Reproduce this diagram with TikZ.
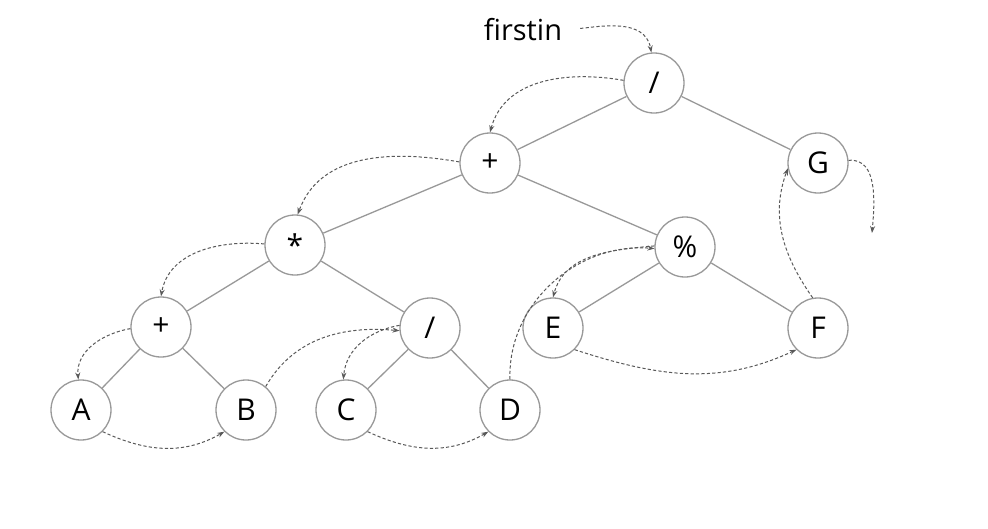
\documentclass[tikz,border=0pt]{standalone}
\usepackage{fontspec}
\setmainfont{Open Sans}
\usetikzlibrary{arrows.meta}
\begin{document}
\begin{tikzpicture}[x=1pt,y=-1pt,
  treenode/.style={circle,draw=black!40,line width=1.3pt,minimum size=60pt,inner sep=0pt,fill=white,font=\fontsize{30}{32}\selectfont},
  treeedge/.style={draw=black!40,line width=1.3pt},
  thread/.style={draw=black!65,line width=1pt,dash pattern=on 3.2pt off 2.2pt,
    -{Stealth[length=7pt,width=5pt]}}]
\useasboundingbox (0,0) rectangle (988,528);
\fill[white] (0,0) rectangle (988,528);

% tree nodes
\node[treenode] (root) at (654,83) {/};
\node[treenode] (p1)   at (490,163) {+};
\node[treenode] (G)    at (818,163) {G};
\node[treenode] (mul)  at (295,245) {*};
\node[treenode] (mod)  at (685,247) {\%};
\node[treenode] (p2)   at (161,327) {+};
\node[treenode] (div)  at (430,328) {/};
\node[treenode] (E)    at (553,328) {E};
\node[treenode] (F)    at (818,328) {F};
\node[treenode] (A)    at (81,410)  {A};
\node[treenode] (B)    at (246,410) {B};
\node[treenode] (C)    at (346,410) {C};
\node[treenode] (D)    at (510,410) {D};

\node[font=\fontsize{29}{31}\selectfont,inner sep=0pt] (first) at (523,30) {firstin};
\coordinate (gnext) at (872,233);

% tree edges
\path[treeedge] (root) -- (p1) (root) -- (G)
  (p1) -- (mul) (p1) -- (mod)
  (mul) -- (p2) (mul) -- (div)
  (p2) -- (A) (p2) -- (B)
  (div) -- (C) (div) -- (D)
  (mod) -- (E) (mod) -- (F);

% traversal threads
\draw[thread,shorten <=18pt] (first.east) to[out=5,in=100] (root.95);
\draw[thread] (root.175) to[out=170,in=75] (p1.90);
\draw[thread] (p1.178) to[out=170,in=70] (mul.85);
\draw[thread] (mul.178) to[out=175,in=80] (p2.90);
\draw[thread] (p2.183) to[out=190,in=95] (A.95);
\draw[thread] (A.-45) to[out=-25,in=-150] (B.-135);
\draw[thread] (B.50) to[out=60,in=175] (div.185);
\draw[thread] (div.175) to[out=190,in=85] (C.95);
\draw[thread] (C.-45) to[out=-25,in=-150] (D.-135);
\draw[thread] (D.90) to[out=92,in=175] (mod.183);
\draw[thread] (mod.178) to[out=185,in=75] (E.90);
\draw[thread] (E.-45) to[out=-18,in=-155] (F.-135);
\draw[thread] (F.100) to[out=125,in=-110] (G.190);
\draw[thread] (G.5) to[out=5,in=85] (gnext);
\end{tikzpicture}
\end{document}
